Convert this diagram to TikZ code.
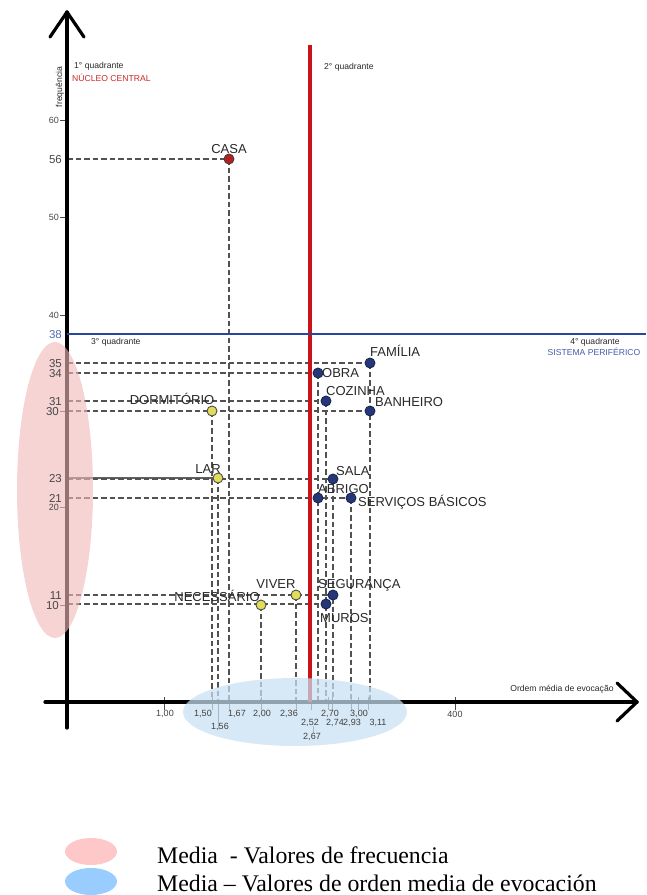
\documentclass[tikz,border=0pt]{standalone}
\usepackage{fontspec}
\setmainfont{Liberation Serif}
\newfontfamily\arialf{Liberation Sans}
\usetikzlibrary{shapes.geometric}
\definecolor{redln}{RGB}{200,20,25}
\definecolor{blueln}{RGB}{40,70,160}
\definecolor{casared}{RGB}{185,30,30}
\definecolor{ydotc}{RGB}{225,220,90}
\definecolor{bdotc}{RGB}{38,55,120}
\definecolor{pinkell}{RGB}{240,185,185}
\definecolor{blueell}{RGB}{200,225,242}
\definecolor{legpink}{RGB}{255,200,200}
\definecolor{legblue}{RGB}{153,204,255}
\definecolor{txtgray}{RGB}{40,40,40}
\definecolor{nucred}{RGB}{205,40,40}
\definecolor{perblue}{RGB}{70,90,170}
\pgfdeclarelayer{bg}
\pgfsetlayers{bg,main}
\tikzset{
  axisline/.style={line width=3.2pt, black, line cap=round, line join=round},
  guide/.style={draw=black!68, line width=1.2pt, dash pattern=on 5.5pt off 3pt},
  guidesolid/.style={draw=black!62, line width=1.1pt},
  dotbase/.style={circle, inner sep=0pt, minimum size=10pt, line width=0.9pt},
  rdot/.style={dotbase, fill=casared, draw=black!75},
  ydot/.style={dotbase, fill=ydotc, draw=black!70},
  bdot/.style={dotbase, fill=bdotc, draw=bdotc!70!black},
  word/.style={font=\arialf\fontsize{13}{13}\selectfont, text=txtgray, inner sep=0pt, text height=9.3pt, text depth=0pt},
  small/.style={font=\arialf\fontsize{8.6}{9}\selectfont, text=txtgray, inner sep=0pt},
  ylab/.style={font=\arialf\fontsize{11.5}{12}\selectfont, text=black!72, inner sep=0pt, anchor=east, text height=8.3pt, text depth=0pt},
  ylabs/.style={font=\arialf\fontsize{9}{10}\selectfont, text=black!72, inner sep=0pt, anchor=east, text height=6.5pt, text depth=0pt},
  xlab/.style={font=\arialf\fontsize{9}{10}\selectfont, text=black!75, inner sep=0pt},
  tickm/.style={draw=black!70, line width=0.8pt},
  legtext/.style={font=\fontsize{23.8}{25}\selectfont, text=black, inner sep=0pt, anchor=west},
}
\begin{document}
\begin{tikzpicture}[x=1pt,y=-1pt]
\useasboundingbox (0,0) rectangle (646,895);
% --- key coordinates
\coordinate (O) at (67,702);
\coordinate (ytop) at (67,12);
\coordinate (ybot) at (67,728);
\coordinate (xleft) at (45,702);
\coordinate (xright) at (637,702);
\coordinate (rtop) at (310,45);
\coordinate (rbot) at (310,702);
\coordinate (bll) at (67,334);
\coordinate (blr) at (646,334);
% --- dots
\node[rdot] (casa) at (229,159) {};
\node[ydot] (dorm) at (212,411) {};
\node[ydot] (lar) at (218,478) {};
\node[ydot] (nec) at (261,605) {};
\node[ydot] (viver) at (296,595) {};
\node[bdot] (obra) at (318,373) {};
\node[bdot] (fam) at (370,363) {};
\node[bdot] (coz) at (326,401) {};
\node[bdot] (banh) at (370,411) {};
\node[bdot] (sala) at (333,479) {};
\node[bdot] (abrigo) at (318,498) {};
\node[bdot] (serv) at (351,498) {};
\node[bdot] (seg) at (333,595) {};
\node[bdot] (muros) at (326,604) {};
% --- background drawing
\begin{pgfonlayer}{bg}
  \draw[guidesolid] (lar.center) -- (lar.center -| O);
  % horizontal guides (one per level, from the farthest point)
  \foreach \p in {casa,fam,obra,coz,banh,sala,serv,seg,muros}{
    \draw[guide] (\p.center -| O) -- (\p.center);
  }
  % vertical guides (one per column, from the highest point)
  \foreach \p in {casa,dorm,lar,nec,viver,obra,fam,coz,sala,serv}{
    \draw[guide] (\p.center) -- (\p.center |- O);
  }
  % ticks on y axis
  \foreach \v/\yy in {60/120,50/217,40/315,30/411,20/507,10/605}{
    \draw[tickm] (60,\yy) -- (67,\yy);
  }
  % x-axis small ticks
  \foreach \xx in {164,212,229,261,296,311,328,332,351,358,368,455}{
    \draw[tickm] (\xx,697) -- (\xx,710);
  }
  \draw[tickm] (218,702) -- (218,729);
  \draw[tickm] (313,726) -- (313,733);
  % axes
  \draw[axisline] (ybot) -- (ytop);
  \draw[axisline] (50,37) -- (ytop) -- (84,37);
  \draw[axisline] (xleft) -- (xright);
  \draw[axisline] (617,683) -- (xright) -- (617,721);
  % red and blue lines
  \draw[redln, line width=3.6pt] (rtop) -- (rbot);
  \draw[blueln, line width=2.8pt] (bll) -- (blr);
  % ellipses
  \fill[pinkell, opacity=0.62] (55,490) ellipse [x radius=38, y radius=148];
  \fill[blueell, opacity=0.72] (295,712) ellipse [x radius=112, y radius=34];
\end{pgfonlayer}
% --- point labels
\node[word] (casaL) at (229,149) {CASA};
\node[word] (dormL) at (172,400) {DORMITÓRIO};
\node[word] (larL) at (208,469) {LAR};
\node[word] (necL) at (217,597) {NECESSÁRIO};
\node[word] (viverL) at (276,584) {VIVER};
\node[word, anchor=west] (famL) at (370,352) {FAMÍLIA};
\node[word, anchor=west] (obraL) at (322,373) {OBRA};
\node[word, anchor=west] (cozL) at (326,391) {COZINHA};
\node[word, anchor=west] (banhL) at (375,402) {BANHEIRO};
\node[word, anchor=west] (salaL) at (336,471) {SALA};
\node[word, anchor=west] (abrigoL) at (318,489) {ABRIGO};
\node[word, anchor=west] (servL) at (358,502) {SERVIÇOS BÁSICOS};
\node[word, anchor=west] (segL) at (318,584) {SEGURANÇA};
\node[word, anchor=west] (murosL) at (320,618) {MUROS};
% --- quadrant texts
\node[small, anchor=west] (q1) at (74,66) {1° quadrante};
\node[small, anchor=west, text=nucred] (nc) at (72,78) {NÚCLEO CENTRAL};
\node[small, anchor=west] (q2) at (324,67) {2° quadrante};
\node[small, anchor=west] (q3) at (91,342) {3° quadrante};
\node[small] (q4) at (595,342) {4° quadrante};
\node[small, text=perblue] (sp) at (594,352) {SISTEMA PERIFÉRICO};
\node[small, rotate=90] (freq) at (60,87) {frequência};
\node[small] (ordem) at (562,689) {Ordem média de evocação};
% --- y labels
\node[ylabs] (y60) at (59,120) {60};
\node[ylab] (y56) at (62,159) {56};
\node[ylabs] (y50) at (59,217) {50};
\node[ylabs] (y40) at (59,315) {40};
\node[ylab, text=blueln!80] (y38) at (62,334) {38};
\node[ylab] (y35) at (62,363) {35};
\node[ylab] (y34) at (62,373) {34};
\node[ylab] (y31) at (62,401) {31};
\node[ylab] (y30) at (59,411) {30};
\node[ylab] (y23) at (62,478) {23};
\node[ylab] (y21) at (62,498) {21};
\node[ylabs] (y20) at (59,507) {20};
\node[ylab] (y11) at (62,595) {11};
\node[ylab] (y10) at (59,605) {10};
% --- x labels
\node[xlab] (x100) at (165,714) {1,00};
\node[xlab] (x150) at (203,714) {1,50};
\node[xlab] (x156) at (220,727) {1,56};
\node[xlab] (x167) at (237,714) {1,67};
\node[xlab] (x200) at (262,714) {2,00};
\node[xlab] (x236) at (289,714) {2,36};
\node[xlab] (x252) at (310,723) {2,52};
\node[xlab] (x267) at (312,737) {2,67};
\node[xlab] (x270) at (330,714) {2,70};
\node[xlab] (x274) at (335,723) {2,74};
\node[xlab] (x293) at (352,723) {2,93};
\node[xlab] (x300) at (359,714) {3,00};
\node[xlab] (x311) at (378,723) {3,11};
\node[xlab] (x400) at (455,714) {400};
% --- legend
\node[ellipse, fill=legpink, minimum width=52pt, minimum height=27pt, inner sep=0pt] (lgp) at (91,851.5) {};
\node[ellipse, fill=legblue, minimum width=52pt, minimum height=27pt, inner sep=0pt] (lgb) at (91,881.5) {};
\node[legtext] (lt1) at (157,855) {Media \ - Valores de frecuencia};
\node[legtext] (lt2) at (157,883) {Media – Valores de orden media de evocación};
\end{tikzpicture}
\end{document}
